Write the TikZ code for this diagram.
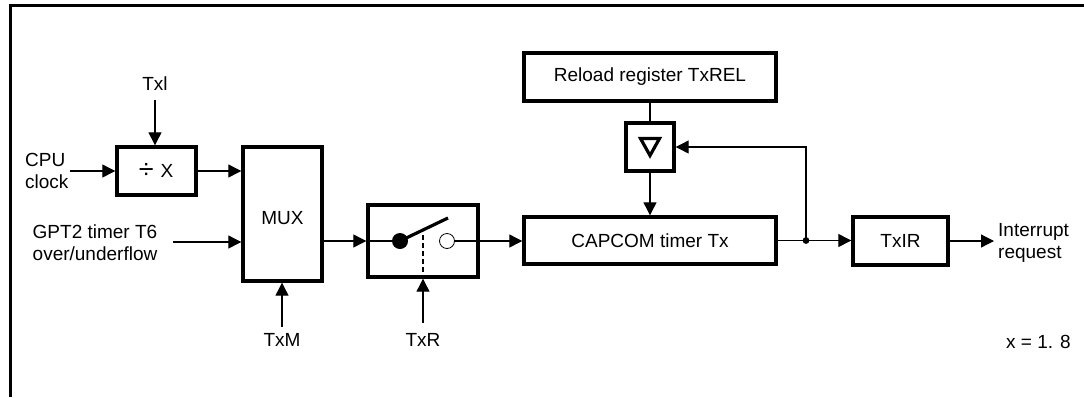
\documentclass[tikz,border=0pt]{standalone}
\usepackage{fontspec}
\setmainfont{Liberation Sans}
\usetikzlibrary{arrows.meta}
\begin{document}
\begin{tikzpicture}[x=1pt,y=-1pt,
  every node/.style={font=\fontsize{19}{22}\selectfont},
  blk/.style={draw,line width=3.4pt,inner sep=0pt,rectangle},
  lbl/.style={inner sep=0pt},
  thin line/.style={line width=1.2pt},
  arr/.style={line width=1.2pt,-{Triangle[length=13pt,width=13pt]}}]
\useasboundingbox (0,0) rectangle (1084,397);
% frame
\draw[line width=3.2pt] (10.5,397) -- (10.5,5.5) -- (1084,5.5);
% blocks
\node[blk,minimum width=79pt,minimum height=48pt] (div) at (156.5,171) {};
\node[lbl] (divt) at (156,171) {\raisebox{-1pt}{\fontsize{27}{27}\selectfont ÷}\kern7pt X};
\node[blk,minimum width=79pt,minimum height=134pt] (mux) at (282.5,214) {};
\node[lbl] (muxt) at (282.5,218) {MUX};
\node[blk,minimum width=110pt,minimum height=72pt] (sw) at (423,241) {};
\node[blk,minimum width=252pt,minimum height=47pt] (cap) at (650,240.5) {CAPCOM timer Tx};
\node[blk,minimum width=252pt,minimum height=48pt] (rel) at (650,77) {Reload register TxREL};
\node[blk,minimum width=48pt,minimum height=48pt] (tri) at (650,147) {};
\node[blk,minimum width=95pt,minimum height=48pt] (txir) at (900.5,241) {TxIR};
% triangle symbol
\draw[line width=3.2pt,line join=miter] (640.5,138.5) -- (659.5,138.5) -- (650,155.5) -- cycle;
% labels
\node[lbl] (txl) at (155,84) {Txl};
\node[lbl,align=left,anchor=west] (cpu) at (25,171) {CPU\\clock};
\node[lbl,align=center] (gpt) at (95,242.5) {GPT2 timer T6\\over/underflow};
\node[lbl] (txm) at (282,340) {TxM};
\node[lbl] (txr) at (423,340) {TxR};
\node[lbl,align=left,anchor=west] (irq) at (998,243) {Interrupt\\request};
\node[lbl,anchor=east] (xr) at (1071,342) {x = 1. 8};
% free ends
\coordinate (txlend) at (155,100);
\coordinate (cpuend) at (70,171);
\coordinate (gptend) at (173,242);
\coordinate (txmend) at (282,327);
\coordinate (txrend) at (423,323);
\coordinate (irqend) at (994,241);
\coordinate (jn) at (806,240.5);
% connectors
\draw[arr] (txlend) -- (txlend |- div.north);
\draw[arr] (cpuend) -- (cpuend -| div.west);
\draw[arr] (div.east) -- (div.east -| mux.west);
\draw[arr] (gptend) -- (gptend -| mux.west);
\draw[arr] (txmend) -- (txmend |- mux.south);
\draw[arr] (mux.east |- sw.west) -- (sw.west);
\draw[arr] (txrend) -- (sw.south);
\draw[arr] (sw.east) -- (sw.east -| cap.west);
\draw[thin line] (rel.south) -- (tri.north);
\draw[arr] (tri.south) -- (cap.north);
\draw[thin line] (cap.east |- jn) -- (jn);
\draw[arr] (jn) -- (jn -| txir.west);
\draw[arr] (jn) |- (tri.east);
\fill (jn) circle (3.4pt);
\draw[arr] (txir.east) -- (irqend);
% switch internals
\coordinate (dot) at (400,241);
\coordinate (opn) at (447,241);
\draw[thin line] (sw.west) -- (dot);
\fill (dot) circle (8pt);
\draw[line width=3.2pt] (dot) -- (448,218);
\draw[line width=0.8pt] (opn) circle (7.5pt);
\draw[thin line] (455,241) -- (sw.east);
\draw[thin line,dash pattern=on 5pt off 3pt] (423,235) -- (423,277);
\end{tikzpicture}
\end{document}
